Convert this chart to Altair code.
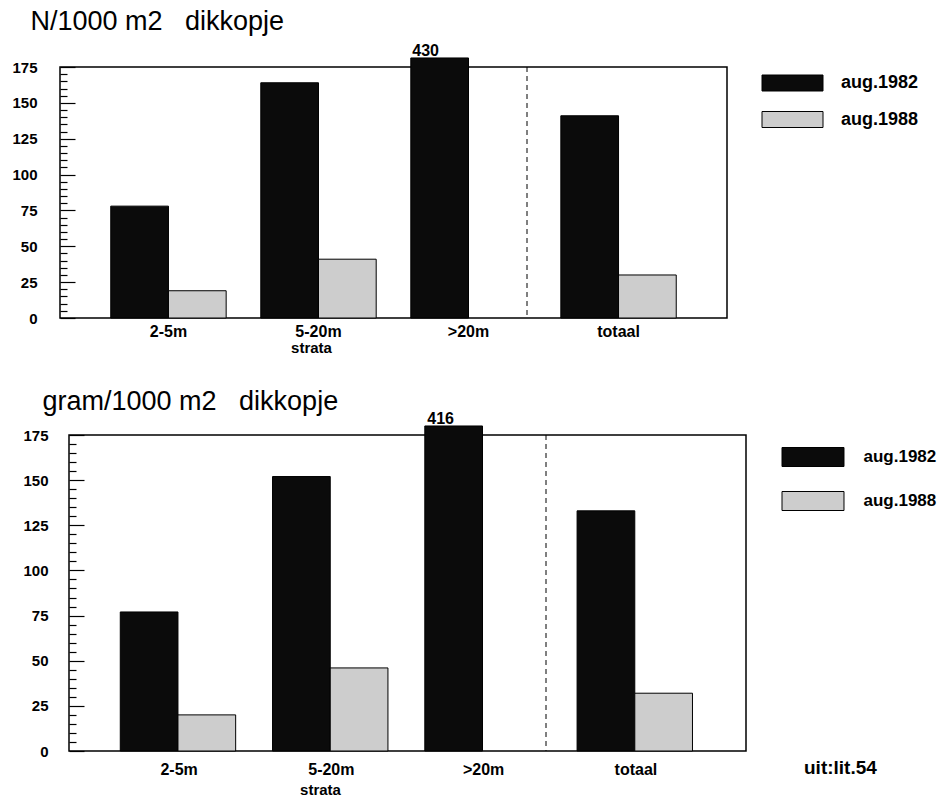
import altair as alt
import pandas as pd

strata = ["2-5m", "5-20m", ">20m", "totaal"]
years = ["aug.1982", "aug.1988"]
n_1982 = [78, 164, 430, 141]
n_1988 = [19, 41, None, 30]
g_1982 = [77, 152, 416, 133]
g_1988 = [20, 46, None, 32]
y_labels = [0, 25, 50, 75, 100, 125, 150, 175]
y_ticks = list(range(0, 180, 5))
colors = ["#0b0b0b", "#cdcdcd"]
source_note = "uit:lit.54"

FONT = "Liberation Sans"


def make_df(v82, v88):
    rows = []
    for s, a, b in zip(strata, v82, v88):
        rows.append({"stratum": s, "jaar": years[0], "value": a})
        rows.append({"stratum": s, "jaar": years[1], "value": b})
    return pd.DataFrame(rows)


def panel(v82, v88, title, w, h, cap, title_dx, title_offset, label_pad, x_label_pad,
          strata_y, sep_x, legend_x, legend_y, sym_path, sym_size, row_pad, val_dx,
          legend_font, note=None):
    df = make_df(v82, v88)
    base = alt.Chart(df).transform_filter("isValid(datum.value)").transform_calculate(
        shown=f"min(datum.value, {cap})")
    yscale = alt.Scale(domain=[0, 175], nice=False, zero=True)
    xscale = alt.Scale(domain=strata, paddingInner=0, paddingOuter=0.223)
    oscale = alt.Scale(domain=years, paddingInner=0, paddingOuter=0.3)

    x_axis = alt.Axis(title="strata", labelFont=FONT, labelFontSize=16, labelFontWeight="bold",
                      labelColor="black", labelPadding=x_label_pad, ticks=False, domain=False,
                      labelAngle=0, titleFont=FONT, titleFontSize=15, titleFontWeight="bold",
                      titleColor="black", titleX=251, titleY=strata_y, titleBaseline="top",
                      zindex=2)
    y_axis = alt.Axis(values=y_labels, title=None, ticks=False, domain=False, grid=False,
                      labelFont=FONT, labelFontSize=15, labelFontWeight="bold", labelColor="black",
                      labelPadding=label_pad)
    tick_axis = alt.Axis(values=y_ticks, orient="right", offset=-w, labels=False, domain=False,
                         grid=False, title=None, ticks=True, tickColor="black",
                         tickSize={"condition": {"test": "datum.value % 25 === 0", "value": 15},
                                   "value": 7},
                         tickWidth=1.2)
    legend = alt.Legend(orient="none", legendX=legend_x, legendY=legend_y, title=None,
                        symbolType=sym_path, symbolSize=sym_size, symbolStrokeColor="black",
                        symbolStrokeWidth=1, labelFont=FONT, labelFontSize=legend_font,
                        labelFontWeight="bold", labelColor="black", labelOffset=62,
                        rowPadding=row_pad, padding=0)

    bars = base.mark_bar(stroke="black", strokeWidth=1).encode(
        x=alt.X("stratum:N", scale=xscale, axis=x_axis),
        xOffset=alt.XOffset("jaar:N", scale=oscale),
        y=alt.Y("shown:Q", scale=yscale, axis=y_axis),
        color=alt.Color("jaar:N", scale=alt.Scale(domain=years, range=colors), legend=legend),
    )
    ticks = base.mark_point(opacity=0).encode(
        y=alt.Y("shown:Q", scale=yscale, axis=tick_axis))
    sep = alt.Chart(pd.DataFrame({"k": [0]})).mark_rule(
        color="black", strokeWidth=1, strokeDash=[5, 4]).encode(
        x=alt.value(sep_x), y=alt.value(0), y2=alt.value(h))
    lab = base.transform_filter("datum.value > 175").mark_text(
        baseline="alphabetic", dx=val_dx, dy=-2, font=FONT, fontSize=16, fontWeight="bold",
        color="black").encode(
        x=alt.X("stratum:N", scale=xscale, axis=x_axis),
        xOffset=alt.XOffset("jaar:N", scale=oscale),
        y=alt.Y("shown:Q", scale=yscale, axis=None),
        text=alt.Text("value:Q"))
    layers = [bars, ticks, sep, lab]
    if note is not None:
        layers.append(alt.Chart(pd.DataFrame({"t": [note]})).mark_text(
            align="left", baseline="middle", font=FONT, fontSize=19, fontWeight="bold",
            color="black").encode(text="t:N", x=alt.value(w + 58), y=alt.value(h + 17)))
    return alt.layer(*layers).resolve_axis(y="independent").properties(
        width=w, height=h,
        title=alt.TitleParams(text=title, anchor="start", frame="group", dx=title_dx,
                              offset=title_offset, font=FONT, fontSize=27, fontWeight="normal",
                              color="black"))


top = panel(n_1982, n_1988, "N/1000 m2\u00a0\u00a0\u00a0dikkopje", 667, 251, 181.3,
            -29.5, 7, 23, 5, 22, 467, 701, 7, "M-1,-1H6.625V1H-1Z", 256, 16.5, -14, 18)
bottom = panel(g_1982, g_1988, "gram/1000 m2\u00a0\u00a0\u00a0dikkopje", 677, 316, 180,
               -26.5, -5, 21, 10, 31, 477, 712.5, 12, "M-1,-1H5.526V1H-1Z", 361, 20, -13, 17,
               note=source_note)

spacer = alt.Chart(pd.DataFrame({"k": [0]})).mark_point(opacity=0).encode(
    x=alt.value(0), y=alt.value(0)).properties(
    width=9, height=10, view=alt.ViewBackground(stroke="transparent"))

bottom_row = alt.concat(spacer, bottom, columns=2, align="none", bounds="flush",
                        spacing=0).resolve_scale(color="independent")

chart = alt.concat(top, bottom_row, columns=1, align="none", spacing=31).resolve_scale(
    color="independent").properties(
    padding={"left": 11, "top": 7, "right": 0, "bottom": 0}).configure(
    font=FONT).configure_view(stroke="black", strokeWidth=1.5)

chart.save("out.html", embed_options={"renderer": "svg", "actions": False})
